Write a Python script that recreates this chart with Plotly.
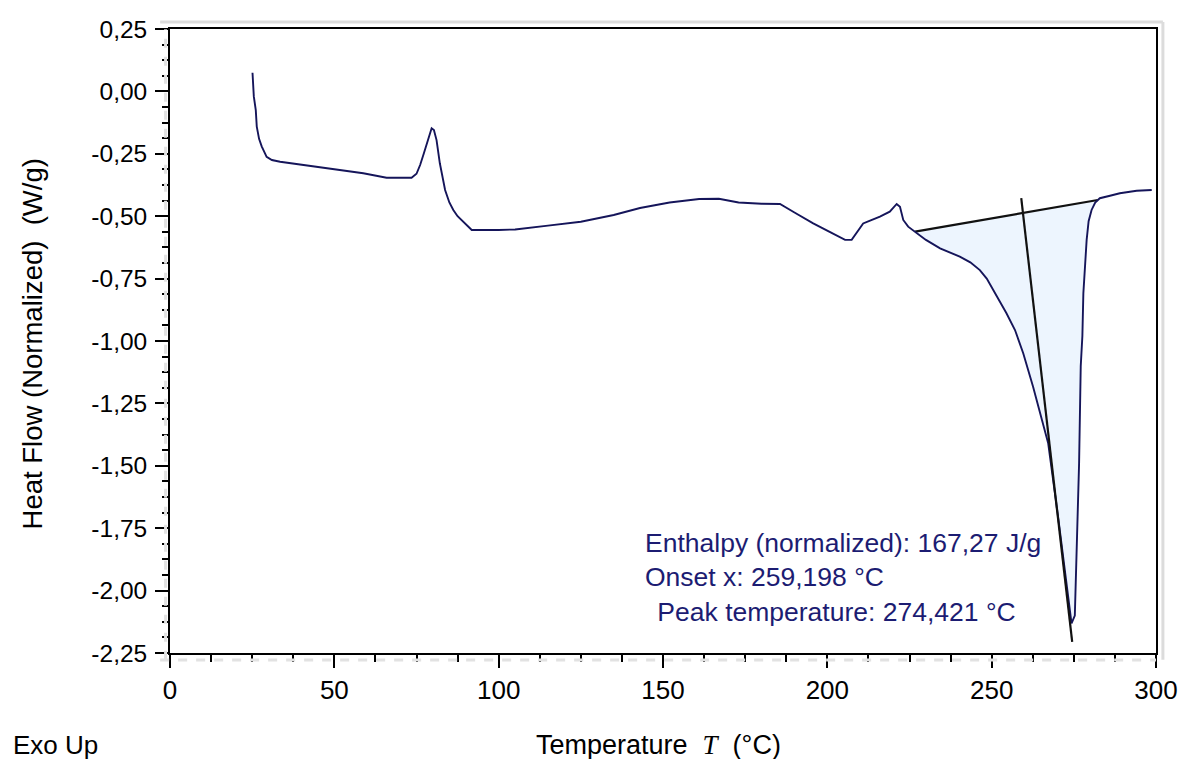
import plotly.graph_objects as go

# ---------------- data ----------------
temp_c = [25.1, 25.2, 25.5, 26.1, 26.4, 27.1, 27.9, 29.4, 31, 33.5, 38, 43.6, 50, 58.8, 65.9,
          73.5, 75, 76.1, 77.2, 78.1, 79, 79.6, 80.3, 81.1, 82.1, 83.7, 85, 86.2, 87.5, 89.2,
          91.8, 100, 105, 115, 125, 135, 143, 152, 161, 167, 173, 180, 185.6, 190, 195.7, 201,
          205.4, 207.4, 209, 210.9, 213, 216, 219, 220.3, 221.1, 222.1, 223.1, 224.6, 226.7,
          230, 234.3, 240.3, 243.5, 246.4, 248.5, 250.5, 254.5, 257.1, 259.6, 262.6, 265.7,
          267.2, 270.2, 272.8, 274.3, 275.3, 275.6, 276.1, 276.6, 277.1, 277.6, 277.9, 278.4,
          278.9, 279.5, 280.4, 281.5, 282.9, 286, 289, 294.1, 298.7]
heat_flow = [0.075, 0.03, -0.02, -0.075, -0.141, -0.19, -0.22, -0.262, -0.275, -0.282, -0.29,
             -0.30, -0.312, -0.328, -0.346, -0.346, -0.33, -0.295, -0.25, -0.208, -0.165, -0.148,
             -0.155, -0.195, -0.288, -0.395, -0.445, -0.475, -0.50, -0.522, -0.555, -0.555,
             -0.553, -0.538, -0.522, -0.495, -0.467, -0.445, -0.431, -0.430, -0.445, -0.450,
             -0.451, -0.485, -0.529, -0.565, -0.595, -0.595, -0.565, -0.529, -0.518, -0.502,
             -0.482, -0.462, -0.451, -0.462, -0.515, -0.542, -0.562, -0.595, -0.629, -0.662,
             -0.685, -0.716, -0.75, -0.796, -0.889, -0.956, -1.049, -1.183, -1.343, -1.41,
             -1.704, -1.971, -2.131, -2.10, -1.97, -1.79, -1.49, -1.10, -0.98, -0.809, -0.70,
             -0.595, -0.52, -0.475, -0.445, -0.428, -0.418, -0.408, -0.398, -0.395]

baseline_t = [226.7, 282.3]
baseline_hf = [-0.562, -0.435]
tangent_t = [259.0, 274.5]
tangent_hf = [-0.428, -2.205]

x_tickvals = [0, 50, 100, 150, 200, 250, 300]
x_ticktext = ["0", "50", "100", "150", "200", "250", "300"]
y_tickvals = [0.25, 0.0, -0.25, -0.5, -0.75, -1.0, -1.25, -1.5, -1.75, -2.0, -2.25]
y_ticktext = ["0,25", "0,00", "-0,25", "-0,50", "-0,75", "-1,00", "-1,25", "-1,50",
              "-1,75", "-2,00", "-2,25"]

result_lines = ["Enthalpy (normalized): 167,27 J/g",
                "Onset x: 259,198 °C",
                " Peak temperature: 274,421 °C"]
result_x = [143.9, 143.9, 145.4]
result_y = [-1.809, -1.946, -2.086]

# ---------------- figure ----------------
FONT = "Liberation Sans, Arial, sans-serif"
CURVE = "#15155a"
TXT = "#1c1c72"

# fill polygon: curve segment between baseline ends, closed along the baseline
seg = [(t, h) for t, h in zip(temp_c, heat_flow) if baseline_t[0] <= t <= baseline_t[1]]
fill_x = [p[0] for p in seg] + [baseline_t[1], baseline_t[0]]
fill_y = [p[1] for p in seg] + [baseline_hf[1], baseline_hf[0]]

fig = go.Figure()
fig.add_trace(go.Scatter(x=fill_x, y=fill_y, fill="toself", fillcolor="#EDF5FE",
                         line=dict(width=0), mode="lines", hoverinfo="skip"))
fig.add_trace(go.Scatter(x=baseline_t, y=baseline_hf, mode="lines",
                         line=dict(color="#111111", width=2.2)))
fig.add_trace(go.Scatter(x=temp_c, y=heat_flow, mode="lines",
                         line=dict(color=CURVE, width=1.9)))
fig.add_trace(go.Scatter(x=tangent_t, y=tangent_hf, mode="lines",
                         line=dict(color="#111111", width=2.2)))

for txt, tx, ty in zip(result_lines, result_x, result_y):
    fig.add_annotation(x=tx, y=ty, xref="x", yref="y", text=txt, showarrow=False,
                       xanchor="left", yanchor="middle",
                       font=dict(family=FONT, size=26.5, color=TXT))

# axis titles and "Exo Up"
fig.add_annotation(xref="paper", yref="paper", x=0.4955, y=-0.1474,
                   text="Temperature  <span style=\"font-family:'Liberation Serif',serif\"><i>T</i></span>  (°C)",
                   showarrow=False, xanchor="center", yanchor="middle",
                   font=dict(family=FONT, size=27, color="black"))
fig.add_annotation(xref="paper", yref="paper", x=-0.139, y=0.496,
                   text="Heat Flow (Normalized)  (W/g)", textangle=-90,
                   showarrow=False, xanchor="center", yanchor="middle",
                   font=dict(family=FONT, size=27.5, color="black"))
fig.add_annotation(xref="paper", yref="paper", x=-0.1612, y=-0.1474,
                   text="Exo Up", showarrow=False, xanchor="left", yanchor="middle",
                   font=dict(family=FONT, size=26, color="black"))

# light gray frame shadows
fig.add_shape(type="line", xref="paper", yref="paper", x0=-0.01, x1=1.007, y0=1.0112, y1=1.0112,
              line=dict(color="#dcdcdc", width=3))
fig.add_shape(type="line", xref="paper", yref="paper", x0=1.007, x1=1.007, y0=-0.011, y1=1.0112,
              line=dict(color="#dcdcdc", width=3))
fig.add_shape(type="line", xref="paper", yref="paper", x0=-0.0045, x1=-0.0045, y0=-0.011, y1=1.0,
              line=dict(color="#e2e2e2", width=3, dash="dash"))
fig.add_shape(type="line", xref="paper", yref="paper", x0=-0.01, x1=1.0, y0=-0.0112, y1=-0.0112,
              line=dict(color="#e2e2e2", width=3, dash="dash"))

fig.update_layout(
    width=1182, height=759,
    margin=dict(l=170, r=26, t=29, b=106),
    paper_bgcolor="white", plot_bgcolor="white",
    showlegend=False,
    font=dict(family=FONT, color="black"),
)
fig.update_xaxes(range=[0, 300], tickmode="array", tickvals=x_tickvals, ticktext=x_ticktext,
                 automargin=False,
                 showgrid=False, zeroline=False, showline=True, linecolor="black", linewidth=1.8,
                 mirror=True, ticks="outside", ticklen=13, tickwidth=1.6, tickcolor="black",
                 ticklabelstandoff=0, tickfont=dict(family=FONT, size=26, color="black"),
                 minor=dict(tickmode="linear", tick0=0, dtick=12.5, ticks="outside",
                            ticklen=7, tickwidth=1.6, tickcolor="black", showgrid=False))
fig.update_yaxes(range=[-2.25, 0.25], tickmode="array", tickvals=y_tickvals, ticktext=y_ticktext,
                 automargin=False,
                 showgrid=False, zeroline=False, showline=True, linecolor="black", linewidth=1.8,
                 mirror=True, ticks="outside", ticklen=13, tickwidth=1.6, tickcolor="black",
                 ticklabelstandoff=3, tickfont=dict(family=FONT, size=24.5, color="black"),
                 minor=dict(tickmode="linear", tick0=0, dtick=0.0625, ticks="outside",
                            ticklen=6, tickwidth=1.6, tickcolor="black", showgrid=False))

fig.write_html("out.html")
